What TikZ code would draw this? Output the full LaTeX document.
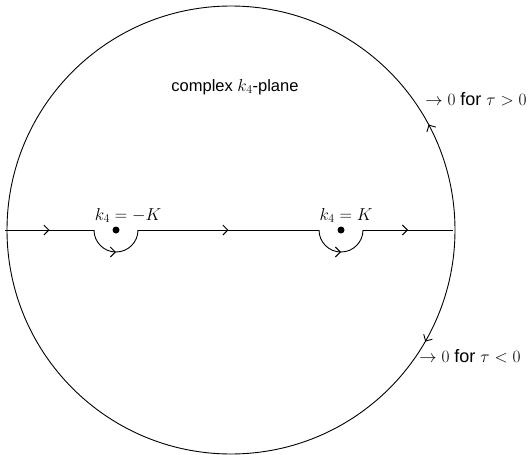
\documentclass[tikz,border=0pt]{standalone}
\usepackage[no-math]{fontspec}
\setmainfont{Liberation Sans}
\usetikzlibrary{decorations.markings,arrows.meta}
\begin{document}
\begin{tikzpicture}[x=1pt,y=-1pt,line width=0.9pt,
  big/.style={font=\fontsize{18}{21}\selectfont},
  titlefont/.style={font=\fontsize{16.5}{19}\selectfont},
  midarrow/.style={decoration={markings,mark=at position #1 with {\arrow{Straight Barb[length=5pt,width=10pt,line width=0.9pt]}}},postaction={decorate}},
  pole/.style={circle,fill,inner sep=0pt,minimum size=7pt}]
\useasboundingbox (0,0) rectangle (528,455);
% big circle
\coordinate (O) at (231,230);
\draw[midarrow=0.156] (455,230) arc[start angle=0,end angle=-180,radius=224];
\draw[midarrow=0.166] (455,230) arc[start angle=0,end angle=180,radius=224];
% poles
\node[pole] (pL) at (116,230) {};
\node[pole] (pR) at (341,230) {};
\coordinate (a) at (5,230);
\coordinate (b1) at (94,230);
\coordinate (b2) at (138,230);
\coordinate (c1) at (319,230);
\coordinate (c2) at (363,230);
\coordinate (d) at (453,230);
% contour along real axis
\draw[midarrow=0.5] (a) -- (b1);
\draw[midarrow=0.5] (b1) arc[start angle=180,end angle=0,radius=22];
\draw[midarrow=0.5] (b2) -- (c1);
\draw[midarrow=0.5] (c1) arc[start angle=180,end angle=0,radius=22];
\draw[midarrow=0.5] (c2) -- (d);
% labels
\node[big,anchor=base,inner sep=0pt] (lL) at (128,220) {$k_4=-K$};
\node[big,anchor=base,inner sep=0pt] (lR) at (346,220) {$k_4=K$};
\node[titlefont,anchor=base,inner sep=0pt] (t) at (235,91) {complex $k_4$-plane};
\node[big,anchor=base west,inner sep=0pt] (up) at (425,105) {$\rightarrow0$ for $\tau>0$};
\node[big,anchor=base west,inner sep=0pt] (lo) at (419,362) {$\rightarrow0$ for $\tau<0$};
\end{tikzpicture}
\end{document}
